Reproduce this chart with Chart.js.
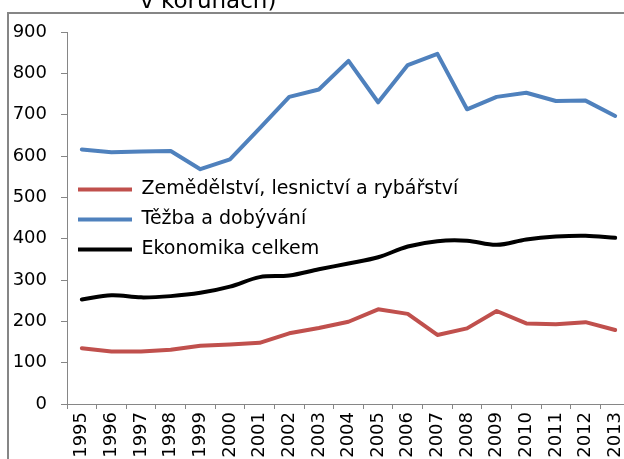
<!DOCTYPE html>
<html><head><meta charset="utf-8">
<style>
html,body{margin:0;padding:0;overflow:hidden;background:#fff;width:624px;height:459px}
#wrap{position:absolute;left:0;top:0;width:660px;height:480px}
</style>
<script src="https://cdn.jsdelivr.net/npm/chart.js@4"></script>
</head><body><div id="wrap"><canvas id="c" width="660" height="480"></canvas></div>
<script>
const years = ['1995','1996','1997','1998','1999','2000','2001','2002','2003','2004','2005','2006','2007','2008','2009','2010','2011','2012','2013'];
const agriculture = [135,127,127,131,141,144,148,171,184,199,229,218,167,183,225,195,193,198,179];
const mining = [616,609,611,612,568,592,667,743,761,830,730,820,847,713,743,753,733,734,697];
const economy = [253,263,258,261,269,284,307,311,326,340,355,381,394,395,385,398,405,407,402];
const seriesNames = ['Zemědělství, lesnictví a rybářství','Těžba a dobývání','Ekonomika celkem'];
const titleText = 'v korunách)';
const yMin = 0, yMax = 900, yStep = 100;

const AX = '#868686';
const FONT = 'DejaVu Sans';

const framePlugin = {
  id: 'frame',
  afterDraw(chart) {
    const ctx = chart.ctx;
    ctx.save();
    ctx.strokeStyle = AX;
    ctx.lineWidth = 2;
    ctx.strokeRect(8, 13, 800, 800);
    ctx.fillStyle = '#000';
    ctx.font = '23px "' + FONT + '"';
    ctx.textBaseline = 'alphabetic';
    ctx.textAlign = 'left';
    ctx.fillText(titleText, 140, 7.5);
    ctx.restore();
  }
};

new Chart(document.getElementById('c'), {
  type: 'line',
  data: {
    labels: years,
    datasets: [
      {label: seriesNames[0], data: agriculture, borderColor: '#C0504D', backgroundColor: '#C0504D', borderWidth: 4, tension: 0, pointRadius: 0, borderCapStyle: 'round', borderJoinStyle: 'round'},
      {label: seriesNames[1], data: mining, borderColor: '#4F81BD', backgroundColor: '#4F81BD', borderWidth: 4, tension: 0, pointRadius: 0, borderCapStyle: 'round', borderJoinStyle: 'round'},
      {label: seriesNames[2], data: economy, borderColor: '#000000', backgroundColor: '#000000', borderWidth: 4, tension: 0.35, pointRadius: 0, borderCapStyle: 'round', borderJoinStyle: 'round'}
    ]
  },
  options: {
    responsive: false,
    animation: false,
    devicePixelRatio: 1,
    layout: {padding: {left: 0, top: 32, right: 30, bottom: 0}},
    plugins: {
      tooltip: {enabled: false},
      title: {display: false},
      legend: {
        position: 'chartArea',
        align: 'center',
        title: {display: true, text: ' ', padding: {top: 44, bottom: 0}, font: {family: FONT, size: 19}},
        labels: {
          boxWidth: 54,
          boxHeight: 4,
          padding: 11,
          color: '#000',
          font: {family: FONT, size: 19},
          generateLabels: (chart) => Chart.defaults.plugins.legend.labels.generateLabels(chart).map(l => Object.assign(l, {lineWidth: 0, fillStyle: l.strokeStyle}))
        }
      }
    },
    scales: {
      x: {
        type: 'category',
        offset: true,
        grid: {offset: true, drawOnChartArea: false, tickLength: 5, color: AX},
        border: {color: AX, width: 1},
        ticks: {minRotation: 90, maxRotation: 90, autoSkip: false, padding: 3, color: '#000', font: {family: FONT, size: 18}},
        afterFit(s) { s.height = 76; }
      },
      y: {
        min: yMin, max: yMax,
        grid: {drawOnChartArea: false, tickLength: 6, color: AX},
        border: {color: AX, width: 1},
        ticks: {stepSize: yStep, padding: 14, color: '#000', font: {family: FONT, size: 18}},
        afterFit(s) { s.width = 67; }
      }
    }
  },
  plugins: [framePlugin]
});
</script>
</body></html>
